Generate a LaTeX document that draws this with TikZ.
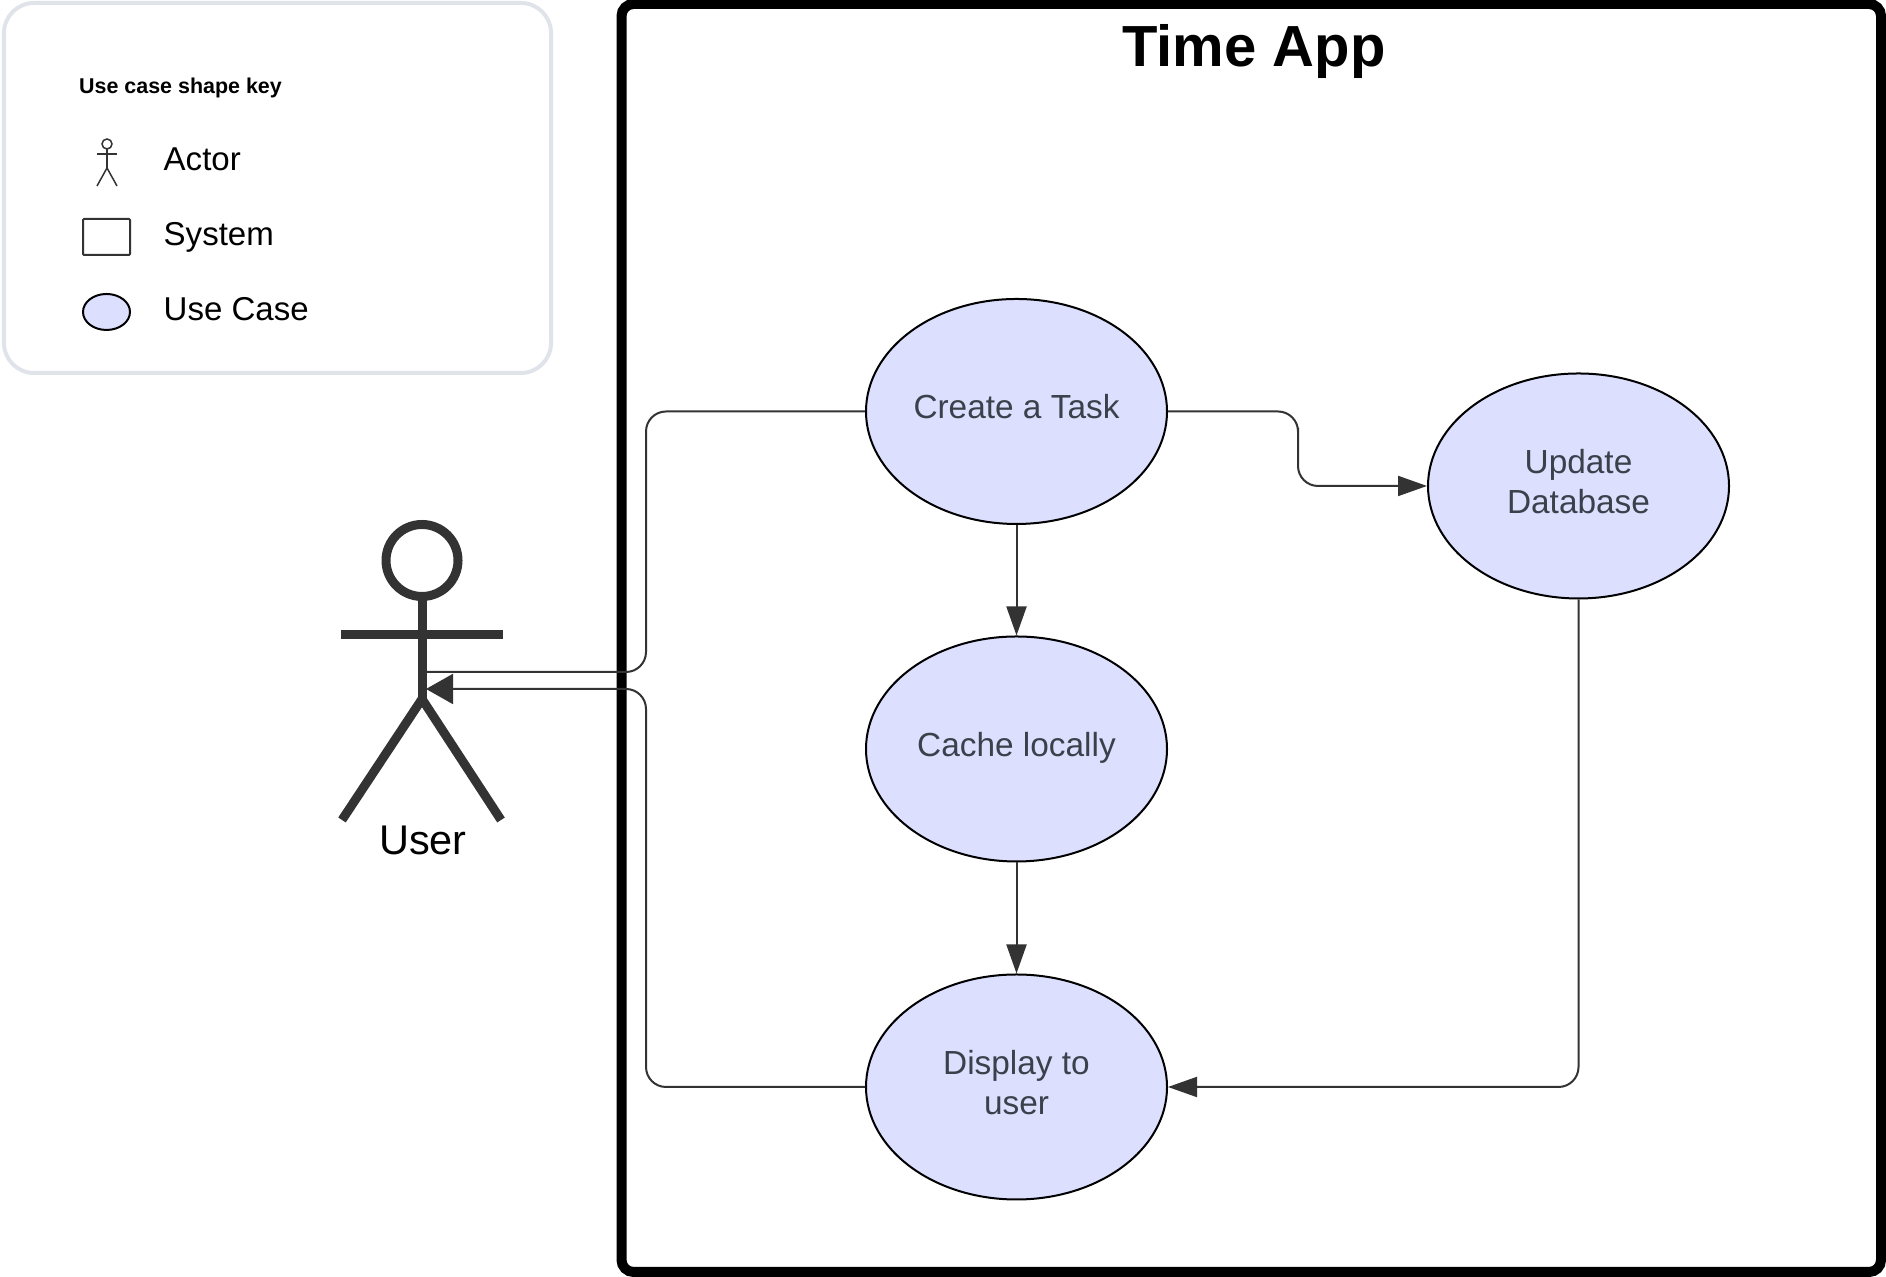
\documentclass[tikz,border=0pt]{standalone}
\usepackage{fontspec}
\setmainfont{Liberation Sans}
\usetikzlibrary{arrows.meta,shapes.geometric}
\definecolor{usefill}{HTML}{DDDFFF}
\definecolor{usetext}{HTML}{3A414A}
\definecolor{linegray}{HTML}{333333}
\definecolor{keyedge}{HTML}{E0E3E9}
\tikzset{
  usecase/.style={ellipse,draw=black,line width=0.02cm,fill=usefill,inner sep=0pt,
    minimum width=3.01cm,minimum height=2.25cm,align=center,text=usetext,
    font=\fontsize{9.5}{11.4}\selectfont,text height=7pt,text depth=2.97pt},
  twolines/.style={text height=18.4pt},
  keyuse/.style={ellipse,draw=black,line width=0.02cm,fill=usefill,inner sep=0pt,
    minimum width=0.47cm,minimum height=0.36cm},
  keysys/.style={rectangle,draw=linegray,line width=0.02cm,rounded corners=0.1mm,inner sep=0pt,
    minimum width=0.47cm,minimum height=0.36cm},
  keytext/.style={anchor=west,inner sep=0pt,font=\fontsize{9.4}{11.4}\selectfont},
  link/.style={draw=linegray,line width=0.02cm,rounded corners=2mm},
  flow/.style={link,-{Triangle[length=2.9mm,width=2mm]}},
  userflow/.style={link,-{Triangle[length=2.7mm,width=3mm]}},
  bigactor/.style={draw=linegray,line width=0.09cm},
  smallactor/.style={draw=linegray,line width=0.015cm},
}
\begin{document}
\begin{tikzpicture}[>={Stealth[length=2mm]},line cap=butt]
\useasboundingbox (0,0.01) rectangle (18.86,12.78);
% shape key
\draw[keyedge,line width=0.04cm,rounded corners=3mm] (0.04,9.05) rectangle (5.51,12.75);
\node[anchor=west,inner sep=0pt,font=\fontsize{6.1}{7.5}\selectfont\bfseries] (keytitle) at (0.785,11.90) {Use case shape key};
\draw[smallactor] (1.07,11.34) circle (0.05);
\draw[smallactor] (1.07,11.29) -- (1.07,11.10);
\draw[smallactor] (0.97,11.24) -- (1.17,11.24);
\draw[smallactor] (0.97,10.92) -- (1.07,11.10) -- (1.17,10.92);
\node[keysys] (keysystem) at (1.065,10.41) {};
\node[keyuse] (keycase) at (1.065,9.66) {};
\node[keytext] (keyactortext) at (1.63,11.19) {Actor};
\node[keytext] (keysystemtext) at (1.63,10.41) {System};
\node[keytext] (keycasetext) at (1.63,9.69) {Use Case};
% system
\draw[black,line width=0.1cm,rounded corners=1.2mm] (6.215,0.06) rectangle (18.81,12.74);
\node[font=\fontsize{16.5}{20}\selectfont\bfseries] (title) at (12.54,12.26) {Time App};
% user
\draw[bigactor] (4.22,7.175) circle (0.36);
\draw[bigactor] (4.22,6.815) -- (4.22,5.79);
\draw[bigactor] (3.41,6.43) -- (5.03,6.43);
\draw[bigactor] (3.42,4.58) -- (4.22,5.79) -- (5.01,4.58);
\node[font=\fontsize{11.8}{14}\selectfont] (user) at (4.23,4.38) {User};
% use cases
\node[usecase] (create) at (10.165,8.665) {Create a Task};
\node[usecase] (cache) at (10.165,5.29) {Cache locally};
\node[usecase,twolines] (display) at (10.165,1.91) {Display to\\user};
\node[usecase,twolines] (update) at (15.785,7.92) {Update\\Database};
\coordinate (actorfrom) at (4.25,6.06);
\coordinate (actorto) at (4.26,5.89);
\coordinate (railtop) at (6.46,6.06);
\coordinate (railbottom) at (6.46,5.89);
\coordinate (bend) at (12.98,8.3);
% connectors
\draw[link] (create.west) -| (railtop) -- (actorfrom);
\draw[userflow] (display.west) -| (railbottom) -- (actorto);
\draw[flow] (create.east) -| (bend) |- (update.west);
\draw[flow] (create.south) -- (cache.north);
\draw[flow] (cache.south) -- (display.north);
\draw[flow] (update.south) |- (display.east);
\end{tikzpicture}
\end{document}
